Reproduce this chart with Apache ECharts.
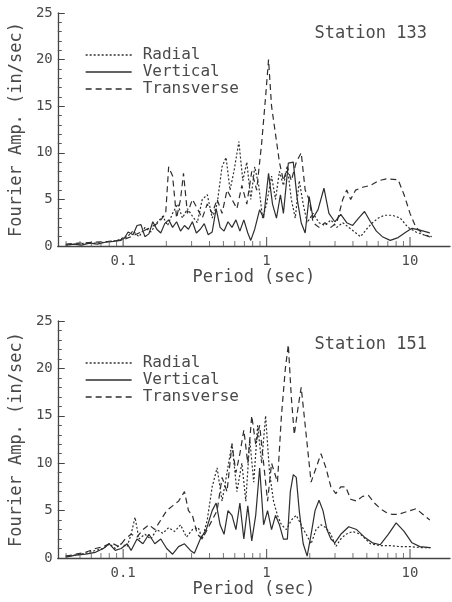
<!DOCTYPE html>
<html>
<head>
<meta charset="utf-8">
<script src="https://cdn.jsdelivr.net/npm/echarts@6/dist/echarts.min.js"></script>
<style>
html,body{margin:0;padding:0;background:#fff;}
#c{width:452px;height:602px;}
</style>
</head>
<body>
<div id="c"></div>
<script>
// ---------- DATA ----------
const seriesNames = ['Radial', 'Vertical', 'Transverse'];
const stationLabels = ['Station 133', 'Station 151'];
const xAxisTitle = 'Period (sec)';
const yAxisTitle = 'Fourier Amp. (in/sec)';
const xTickValues = [0.04,0.05,0.06,0.07,0.08,0.09,0.1,0.2,0.3,0.4,0.5,0.6,0.7,0.8,0.9,1,2,3,4,5,6,7,8,9,10];
const xLabelMap = {'-1': '0.1', '0': '1', '1': '10'};

// Station 133 : [period (sec), amplitude (in/sec)]
const radial133 = [[0.0398,0.1],[0.0467,0.2],[0.0547,0.3],[0.0641,0.3],[0.0728,0.4],[0.0826,0.5],[0.0909,0.6],[0.0969,0.8],[0.107,1.0],[0.117,1.6],[0.129,1.0],[0.142,2.0],[0.156,1.5],[0.172,2.5],[0.189,3.2],[0.204,2.2],[0.221,3.5],[0.240,4.5],[0.259,3.0],[0.281,4.0],[0.304,3.2],[0.329,2.5],[0.356,5.0],[0.386,5.5],[0.418,3.0],[0.452,4.5],[0.489,8.5],[0.522,9.5],[0.556,6.0],[0.592,8.0],[0.641,11.2],[0.683,7.0],[0.728,9.0],[0.776,5.0],[0.827,8.5],[0.881,6.5],[0.938,3.0],[1.0,4.5],[1.083,7.5],[1.154,5.0],[1.229,8.0],[1.31,6.5],[1.396,8.5],[1.487,5.0],[1.585,3.0],[1.689,7.0],[1.80,4.5],[1.918,2.5],[2.109,3.5],[2.32,2.5],[2.552,2.2],[2.807,2.8],[3.088,2.0],[3.396,2.5],[3.737,2.0],[4.11,1.5],[4.521,1.0],[4.973,1.8],[5.47,2.5],[6.016,3.0],[6.617,3.3],[7.513,3.3],[8.531,3.0],[9.687,2.0],[11.0,1.5],[12.49,1.2],[14.18,1.0]];
const vertical133 = [[0.0398,0.1],[0.0452,0.2],[0.0513,0.1],[0.0583,0.3],[0.0662,0.2],[0.0751,0.4],[0.0853,0.5],[0.0938,0.6],[0.1016,0.8],[0.1083,1.5],[0.1172,1.2],[0.1249,2.2],[0.1331,2.3],[0.1418,1.0],[0.1511,1.3],[0.161,2.6],[0.1716,1.8],[0.1829,1.4],[0.1949,2.4],[0.2076,2.8],[0.2212,2.0],[0.2358,2.6],[0.2512,1.6],[0.2677,2.2],[0.2852,1.8],[0.3039,2.6],[0.3238,1.4],[0.3451,1.8],[0.3677,2.4],[0.3918,1.2],[0.4175,1.5],[0.4449,4.0],[0.4741,2.0],[0.5052,1.6],[0.5383,2.6],[0.5736,2.0],[0.6113,2.8],[0.6514,1.6],[0.6941,2.8],[0.7396,1.4],[0.7757,0.6],[0.8265,1.8],[0.8947,3.9],[0.9534,3.0],[1.032,7.8],[1.1,4.5],[1.172,3.0],[1.249,5.5],[1.31,3.5],[1.418,8.9],[1.535,9.0],[1.636,5.0],[1.743,2.5],[1.858,1.4],[1.98,5.3],[2.109,3.0],[2.284,3.9],[2.512,6.2],[2.72,3.5],[2.991,2.6],[3.29,3.4],[3.62,2.5],[3.981,2.2],[4.38,3.0],[4.818,3.7],[5.299,2.6],[5.828,1.6],[6.411,1.0],[7.278,0.6],[8.265,0.9],[9.385,1.5],[10.32,1.9],[11.72,1.7],[13.74,1.4]];
const transverse133 = [[0.0398,0.2],[0.0489,0.3],[0.0621,0.4],[0.0788,0.5],[0.0969,0.6],[0.1136,1.0],[0.1331,1.5],[0.156,2.0],[0.1771,2.5],[0.198,3.5],[0.2076,8.5],[0.2212,7.5],[0.2358,3.0],[0.2512,5.0],[0.2635,7.8],[0.2807,3.5],[0.3039,5.0],[0.329,4.0],[0.3562,3.0],[0.3857,4.5],[0.4175,3.5],[0.452,5.0],[0.4894,3.5],[0.5299,6.0],[0.5736,5.0],[0.6211,4.0],[0.6724,6.5],[0.728,4.5],[0.7881,8.0],[0.8531,6.0],[0.9236,11.0],[0.9842,16.0],[1.032,20.0],[1.083,15.0],[1.154,12.0],[1.229,9.0],[1.31,7.0],[1.396,8.5],[1.487,7.0],[1.61,9.0],[1.743,10.0],[1.858,6.0],[1.98,5.0],[2.109,2.5],[2.32,2.0],[2.552,2.5],[2.807,2.0],[3.088,2.5],[3.396,5.0],[3.62,6.0],[3.857,5.0],[4.176,6.0],[4.667,6.3],[5.299,6.5],[6.016,7.0],[6.831,7.2],[8.265,7.1],[9.091,5.5],[10.0,3.5],[11.0,2.0],[12.49,1.2],[14.18,0.9]];

// Station 151
const radial151 = [[0.0398,0.2],[0.0467,0.3],[0.0547,0.5],[0.0641,0.8],[0.0728,1.0],[0.08,1.5],[0.0881,1.0],[0.0969,1.5],[0.1066,1.2],[0.1136,2.5],[0.121,4.3],[0.1289,2.0],[0.1418,2.5],[0.156,2.0],[0.1716,3.0],[0.1888,2.6],[0.2076,3.2],[0.2284,2.8],[0.2512,3.5],[0.2763,2.2],[0.3039,3.0],[0.3343,3.2],[0.3562,2.0],[0.3857,4.0],[0.4175,7.5],[0.452,9.5],[0.4894,6.0],[0.5299,9.0],[0.5736,12.1],[0.6211,7.0],[0.6724,10.0],[0.7165,6.0],[0.7635,12.5],[0.8135,8.0],[0.8667,14.0],[0.9236,10.0],[0.9842,15.0],[1.049,9.0],[1.118,6.0],[1.191,4.5],[1.269,3.5],[1.374,3.0],[1.487,4.0],[1.61,4.5],[1.743,3.5],[1.888,2.5],[2.043,1.5],[2.212,3.0],[2.395,3.5],[2.593,3.2],[2.807,2.5],[3.039,1.2],[3.29,2.0],[3.562,2.5],[3.981,2.8],[4.521,2.5],[5.299,1.5],[6.21,1.3],[7.278,1.3],[8.531,1.2],[10.0,1.2],[11.72,1.1],[14.18,1.1]];
const vertical151 = [[0.0398,0.1],[0.0467,0.3],[0.0547,0.4],[0.0641,0.6],[0.0728,1.0],[0.08,1.5],[0.0881,0.8],[0.0969,1.0],[0.1066,1.5],[0.1136,0.8],[0.1249,2.0],[0.1374,1.5],[0.1511,2.5],[0.1662,1.5],[0.1829,2.0],[0.2011,1.0],[0.2212,0.4],[0.2434,1.2],[0.2677,1.5],[0.2944,0.8],[0.3137,0.5],[0.3451,2.0],[0.3796,3.0],[0.4175,5.0],[0.4449,5.8],[0.4741,3.5],[0.5052,2.5],[0.5383,5.0],[0.5736,4.5],[0.6113,3.0],[0.6514,5.8],[0.6941,2.0],[0.7396,5.5],[0.7881,1.8],[0.8397,4.5],[0.8947,9.5],[0.9534,3.5],[1.016,5.0],[1.083,3.0],[1.154,4.5],[1.229,3.5],[1.31,2.0],[1.396,2.0],[1.464,7.0],[1.535,8.8],[1.61,8.5],[1.689,5.0],[1.8,1.5],[1.918,0.2],[2.043,2.5],[2.177,5.0],[2.32,6.1],[2.473,5.0],[2.634,3.0],[2.807,2.0],[2.991,1.6],[3.29,2.5],[3.737,3.3],[4.243,3.0],[4.818,2.2],[5.47,1.6],[6.21,1.4],[7.051,2.5],[8.005,3.7],[9.091,2.8],[10.32,1.6],[11.72,1.2],[13.74,1.1]];
const transverse151 = [[0.0398,0.2],[0.0467,0.4],[0.0547,0.6],[0.0641,1.0],[0.0728,1.2],[0.0826,1.6],[0.0938,1.2],[0.1032,2.0],[0.1136,2.5],[0.1249,2.2],[0.1374,3.0],[0.1511,3.5],[0.1662,3.0],[0.1829,4.0],[0.2011,5.0],[0.2212,5.5],[0.2434,6.0],[0.2677,7.0],[0.2852,5.0],[0.3039,4.5],[0.329,2.5],[0.3562,2.0],[0.3857,3.0],[0.4175,4.0],[0.452,5.0],[0.4894,8.5],[0.5299,7.0],[0.5736,12.0],[0.6113,9.0],[0.6514,11.0],[0.6941,13.5],[0.7396,10.0],[0.7881,15.0],[0.8397,12.0],[0.8947,14.0],[0.9534,10.0],[1.016,6.0],[1.083,10.0],[1.191,8.0],[1.269,15.0],[1.352,20.0],[1.418,22.5],[1.487,17.0],[1.56,13.0],[1.662,16.0],[1.743,18.0],[1.829,15.0],[1.918,12.0],[2.043,8.0],[2.212,9.5],[2.395,11.0],[2.593,9.5],[2.807,7.5],[3.039,6.8],[3.29,7.5],[3.562,7.5],[3.857,6.2],[4.243,6.0],[4.667,6.5],[5.133,6.6],[5.646,5.8],[6.21,5.2],[6.831,4.8],[7.513,4.6],[8.265,4.6],[9.091,4.8],[10.0,5.0],[11.0,5.2],[12.1,4.7],[13.74,4.0]];

// ---------- CHART ----------
const FONT = 'DejaVu Sans Mono';
const TXT = '#4a4a4a';
const LINE = '#2e2e2e';
const stations = [
  {radial: radial133, vertical: vertical133, transverse: transverse133},
  {radial: radial151, vertical: vertical151, transverse: transverse151}
];
const grids = [
  {left: 54, top: 13, width: 396, height: 233},
  {left: 54, top: 321, width: 396, height: 237}
];
const styles = {
  Radial: [2, 2],
  Vertical: 'solid',
  Transverse: [6, 4]
};
const isDecade = v => { const l = Math.log10(v); return Math.abs(l - Math.round(l)) < 1e-6; };
const majorTicks = xTickValues.filter(isDecade);
const minorTicks = xTickValues.filter(v => !isDecade(v));

const option = {
  backgroundColor: '#fff',
  animation: false,
  grid: grids,
  title: stationLabels.map((t, i) => ({
    text: t, right: 20, top: i === 0 ? 20 : 331,
    textStyle: {fontFamily: FONT, fontSize: 17, fontWeight: 'normal', color: TXT}
  })),
  legend: [0, 1].map(i => ({
    data: seriesNames,
    orient: 'vertical',
    left: 80, top: i === 0 ? 42 : 350,
    itemWidth: 46, itemHeight: 12, itemGap: 1,
    selectedMode: false,
    itemStyle: {opacity: 0},
    lineStyle: {width: 1.3, color: LINE},
    textStyle: {fontFamily: FONT, fontSize: 16, color: TXT, padding: [0, 0, 0, 6]}
  })),
  xAxis: [0, 1].map(i => ({
    type: 'log', logBase: 10, gridIndex: i, min: 0.035, max: 19,
    name: xAxisTitle, nameLocation: 'middle', nameGap: 22,
    nameTextStyle: {fontFamily: FONT, fontSize: 17, color: TXT},
    axisLine: {lineStyle: {color: '#444', width: 1.3}},
    axisTick: {show: false},
    splitLine: {show: false},
    axisLabel: {
      fontFamily: FONT, fontSize: 14, color: TXT, margin: 8,
      showMinLabel: false, showMaxLabel: false,
      formatter: v => {
        const l = Math.log10(v), r = Math.round(l);
        if (Math.abs(l - r) > 1e-6) return '';
        return xLabelMap[String(r)] || '';
      }
    }
  })),
  yAxis: [0, 1].map(i => ({
    type: 'value', gridIndex: i, min: 0, max: 25, interval: 5,
    name: yAxisTitle, nameLocation: 'middle', nameGap: 32, nameRotate: 90,
    nameTextStyle: {fontFamily: FONT, fontSize: 17, color: TXT},
    axisLine: {show: true, lineStyle: {color: '#444', width: 1.3}},
    axisTick: {show: true, inside: true, length: 7, lineStyle: {color: '#444'}},
    minorTick: {show: true, splitNumber: 5, length: 4, lineStyle: {color: '#555'}},
    splitLine: {show: false},
    axisLabel: {fontFamily: FONT, fontSize: 14, color: TXT, margin: 5}
  })),
  series: []
};

stations.forEach((st, i) => {
  [['Radial', st.radial], ['Vertical', st.vertical], ['Transverse', st.transverse]].forEach(([name, data]) => {
    option.series.push({
      type: 'line', name, xAxisIndex: i, yAxisIndex: i, data,
      symbol: 'none', showSymbol: false, smooth: false,
      lineStyle: {color: LINE, width: 1.2, type: styles[name]},
      itemStyle: {color: LINE}
    });
  });
  // x-axis tick marks (inside) at log positions
  option.series.push({
    type: 'scatter', name: 'majorTicks' + i, xAxisIndex: i, yAxisIndex: i,
    data: majorTicks.map(v => [v, 0]),
    symbol: 'rect', symbolSize: [1.2, 9], symbolOffset: [0, -4.5],
    itemStyle: {color: '#444'}, silent: true, clip: false, z: 5
  });
  option.series.push({
    type: 'scatter', name: 'minorTicks' + i, xAxisIndex: i, yAxisIndex: i,
    data: minorTicks.map(v => [v, 0]),
    symbol: 'rect', symbolSize: [1, 5], symbolOffset: [0, -2.5],
    itemStyle: {color: '#555'}, silent: true, clip: false, z: 5
  });
});

const chart = echarts.init(document.getElementById('c'), null, {renderer: 'canvas'});
chart.setOption(option);
</script>
</body>
</html>
